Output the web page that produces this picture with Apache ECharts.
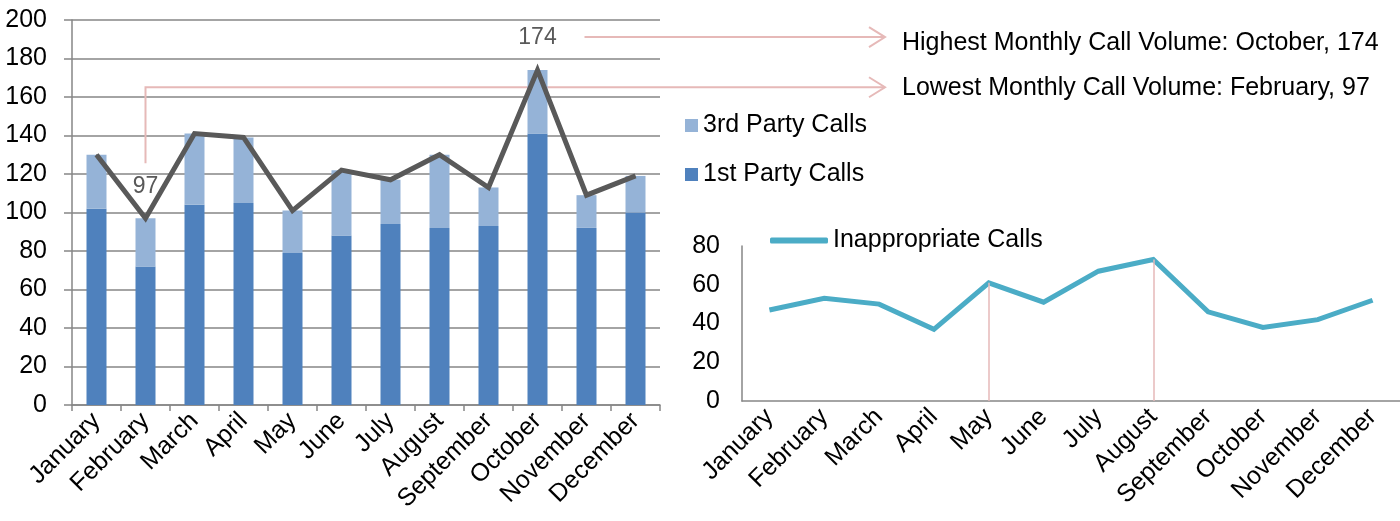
<!DOCTYPE html>
<html>
<head>
<meta charset="utf-8">
<title>Monthly Call Volume</title>
<script src="https://cdn.jsdelivr.net/npm/echarts@6/dist/echarts.min.js"></script>
<style>
  html, body { margin: 0; padding: 0; background: #fff; }
  #chart { width: 1400px; height: 521px; }
</style>
</head>
<body>
<div id="chart"></div>
<script>
  const months = ['January', 'February', 'March', 'April', 'May', 'June',
    'July', 'August', 'September', 'October', 'November', 'December'];
  const firstParty = [102, 72, 104, 105, 79, 88, 94, 92, 93, 141, 92, 100];
  const thirdParty = [28, 25, 37, 34, 22, 34, 23, 38, 20, 33, 17, 19];
  const inappropriate = [47, 53, 50, 37, 61, 51, 67, 73, 46, 38, 42, 52];
  const leftTicks = { min: 0, max: 200, interval: 20 };
  const rightTicks = { min: 0, max: 80, interval: 20 };

  // total monthly volume = 1st + 3rd party
  const totals = firstParty.map((v, i) => v + thirdParty[i]);
  const maxIdx = totals.indexOf(Math.max(...totals));
  const minIdx = totals.indexOf(Math.min(...totals));

  const FONT = 'Liberation Sans, Arial, sans-serif';
  const GRID_LINE = '#868686';
  const PINK = '#E6B9B8';
  const FS = 25;

  const chart = echarts.init(document.getElementById('chart'));

  const axisText = { color: '#000', fontSize: FS, fontFamily: FONT };

  chart.setOption({
    animation: false,
    textStyle: { fontFamily: FONT },
    grid: [
      { left: 72, right: 740, top: 20, bottom: 116 },
      { left: 742, right: 0, top: 246, bottom: 120 }
    ],
    legend: [
      {
        orient: 'vertical',
        left: 685, top: 113, padding: 0,
        itemWidth: 13, itemHeight: 13, itemGap: 24,
        icon: 'rect',
        textStyle: { fontSize: FS, color: '#000', fontFamily: FONT, lineHeight: 25 },
        data: ['3rd Party Calls', '1st Party Calls']
      },
      {
        left: 770, top: 228, padding: 0,
        itemWidth: 58, itemHeight: 6,
        icon: 'roundRect',
        textStyle: { fontSize: FS, color: '#000', fontFamily: FONT, lineHeight: 25 },
        data: ['Inappropriate Calls']
      }
    ],
    xAxis: [
      {
        gridIndex: 0, type: 'category', data: months,
        axisLine: { lineStyle: { color: GRID_LINE, width: 1.5 } },
        axisTick: { show: true, length: 6, lineStyle: { color: GRID_LINE, width: 1.5 } },
        axisLabel: Object.assign({ rotate: 45, margin: 12, interval: 0 }, axisText)
      },
      {
        gridIndex: 1, type: 'category', data: months,
        axisLine: { lineStyle: { color: GRID_LINE, width: 1.5 } },
        axisTick: { show: false },
        axisLabel: Object.assign({ rotate: 45, margin: 12, interval: 0 }, axisText)
      }
    ],
    yAxis: [
      {
        gridIndex: 0, type: 'value',
        min: leftTicks.min, max: leftTicks.max, interval: leftTicks.interval,
        axisLine: { show: true, lineStyle: { color: GRID_LINE, width: 1.5 } },
        axisTick: { show: true, length: 8, lineStyle: { color: GRID_LINE, width: 1.5 } },
        splitLine: { lineStyle: { color: GRID_LINE, width: 1.5 } },
        axisLabel: Object.assign({ margin: 25 }, axisText)
      },
      {
        gridIndex: 1, type: 'value',
        min: rightTicks.min, max: rightTicks.max, interval: rightTicks.interval,
        axisLine: { show: true, lineStyle: { color: GRID_LINE, width: 1.5 } },
        axisTick: { show: false },
        splitLine: { show: false },
        axisLabel: Object.assign({ margin: 22 }, axisText)
      }
    ],
    series: [
      {
        name: '1st Party Calls', type: 'bar', stack: 'calls',
        xAxisIndex: 0, yAxisIndex: 0, barWidth: 20,
        itemStyle: { color: '#4F81BD' },
        data: firstParty
      },
      {
        name: '3rd Party Calls', type: 'bar', stack: 'calls',
        xAxisIndex: 0, yAxisIndex: 0, barWidth: 20,
        itemStyle: { color: '#95B3D7' },
        data: thirdParty
      },
      {
        name: 'Total Calls', type: 'line',
        xAxisIndex: 0, yAxisIndex: 0,
        symbol: 'circle', symbolSize: 1, showSymbol: true,
        itemStyle: { color: '#595959' },
        lineStyle: { color: '#595959', width: 5, join: 'miter', miterLimit: 20 },
        label: { show: false },
        data: totals.map((v, i) => ({
          value: v,
          label: {
            show: i === maxIdx || i === minIdx,
            position: 'top', distance: 20,
            color: '#595959', fontSize: 23, fontFamily: FONT
          }
        })),
        z: 5
      },
      {
        name: 'Inappropriate Calls', type: 'line',
        xAxisIndex: 1, yAxisIndex: 1,
        symbol: 'none',
        itemStyle: { color: '#4BACC6' },
        lineStyle: { color: '#4BACC6', width: 5, join: 'miter' },
        data: inappropriate,
        markLine: {
          silent: true, symbol: 'none', label: { show: false },
          lineStyle: { color: PINK, width: 1.5, type: 'solid' },
          data: ['May', 'August'].map(m => {
            const i = months.indexOf(m);
            return [{ coord: [m, inappropriate[i]] }, { coord: [m, 0] }];
          })
        },
        z: 4
      }
    ]
  });

  // callout arrows pointing to the summary text
  function arrowGraphics() {
    const hi = chart.convertToPixel({ xAxisIndex: 0, yAxisIndex: 0 }, [months[maxIdx], totals[maxIdx]]);
    const lo = chart.convertToPixel({ xAxisIndex: 0, yAxisIndex: 0 }, [months[minIdx], totals[minIdx]]);
    const tipX = 885;
    const hiY = hi[1] - 33;
    const loY = lo[1] - 131;
    const stroke = { stroke: PINK, lineWidth: 2, fill: null };
    const head = y => ({
      type: 'polyline', silent: true,
      shape: { points: [[tipX - 16, y - 10], [tipX, y], [tipX - 16, y + 10]] },
      style: stroke
    });
    const text = (y, s) => ({
      type: 'text', x: 902, y: y, silent: true,
      style: { text: s, fontSize: FS, fontFamily: FONT, fill: '#000', verticalAlign: 'middle' }
    });
    return [
      { type: 'polyline', silent: true, shape: { points: [[hi[0] + 47, hiY], [tipX, hiY]] }, style: stroke },
      head(hiY),
      { type: 'polyline', silent: true, shape: { points: [[lo[0], lo[1] - 55], [lo[0], loY], [tipX, loY]] }, style: stroke },
      head(loY),
      text(hiY + 6, 'Highest Monthly Call Volume: ' + months[maxIdx] + ', ' + totals[maxIdx]),
      text(loY + 1, 'Lowest Monthly Call Volume: ' + months[minIdx] + ', ' + totals[minIdx])
    ];
  }

  chart.setOption({ graphic: arrowGraphics() });
</script>
</body>
</html>
